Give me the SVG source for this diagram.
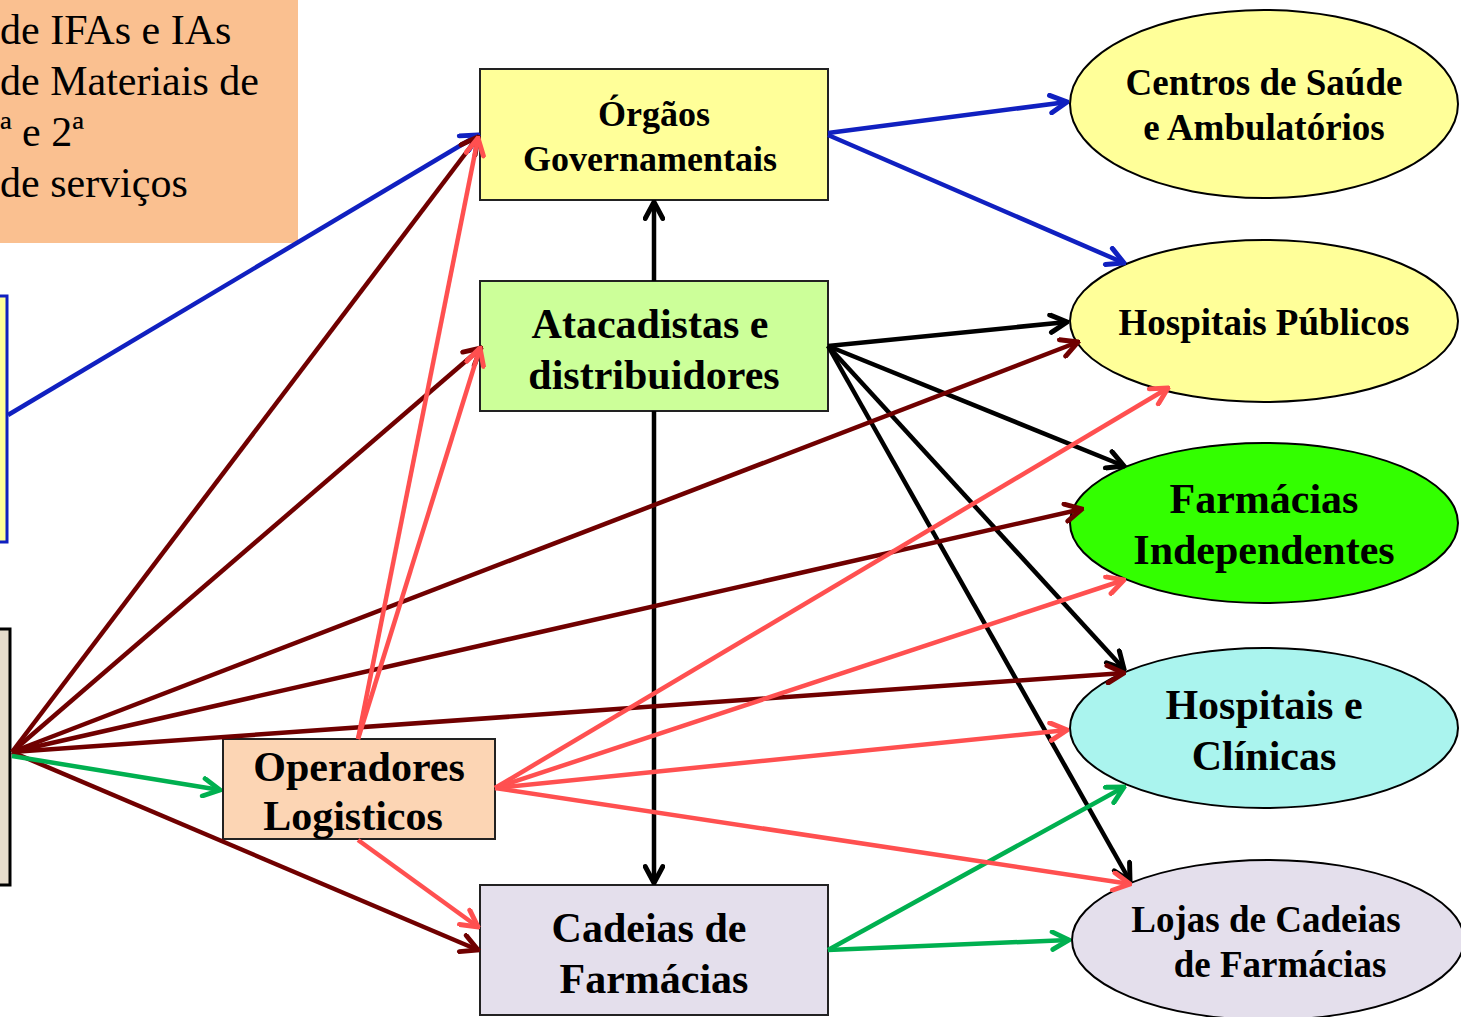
<svg xmlns="http://www.w3.org/2000/svg" width="1461" height="1017" viewBox="0 0 1461 1017">
<defs>
<style>
.t{font-family:"Liberation Serif","Times New Roman",serif;fill:#000}
.b{font-weight:bold;text-anchor:middle}
.box{stroke:#222;stroke-width:2}
.ell{stroke:#000;stroke-width:2}
.c{fill:none;stroke-width:4.5}
.blue{stroke:#1020C0}
.blk{stroke:#000}
.dred{stroke:#700000}
.grn{stroke:#00B050}
.red{stroke:#FF5050}
</style>
<marker id="mBlue" viewBox="0 0 20 20" refX="18" refY="10" markerWidth="22" markerHeight="22" markerUnits="userSpaceOnUse" orient="auto"><path d="M3,2 L18,10 L3,18" fill="none" stroke="#1020C0" stroke-width="4.5" stroke-linecap="round"/></marker>
<marker id="mBlk" viewBox="0 0 20 20" refX="18" refY="10" markerWidth="22" markerHeight="22" markerUnits="userSpaceOnUse" orient="auto"><path d="M3,2 L18,10 L3,18" fill="none" stroke="#000" stroke-width="4.5" stroke-linecap="round"/></marker>
<marker id="mDred" viewBox="0 0 20 20" refX="18" refY="10" markerWidth="22" markerHeight="22" markerUnits="userSpaceOnUse" orient="auto"><path d="M3,2 L18,10 L3,18" fill="none" stroke="#700000" stroke-width="4.5" stroke-linecap="round"/></marker>
<marker id="mGrn" viewBox="0 0 20 20" refX="18" refY="10" markerWidth="22" markerHeight="22" markerUnits="userSpaceOnUse" orient="auto"><path d="M3,2 L18,10 L3,18" fill="none" stroke="#00B050" stroke-width="4.5" stroke-linecap="round"/></marker>
<marker id="mRed" viewBox="0 0 20 20" refX="18" refY="10" markerWidth="22" markerHeight="22" markerUnits="userSpaceOnUse" orient="auto"><path d="M3,2 L18,10 L3,18" fill="none" stroke="#FF5050" stroke-width="4.5" stroke-linecap="round"/></marker>
</defs>
<rect width="1461" height="1017" fill="#fff"/>

<g id="fornecedores">
<rect x="-10" y="-10" width="308" height="253" fill="#FAC090"/>
<text class="t" font-size="42" x="0" y="44">de IFAs e IAs</text>
<text class="t" font-size="42" x="0" y="95">de Materiais de</text>
<text class="t" font-size="42" x="0" y="146">ª e 2ª</text>
<text class="t" font-size="42" x="0" y="197">de serviços</text>
</g>
<g id="caixa-azul">
<rect x="-20" y="296" width="27" height="246" fill="#FFFF99" stroke="#1020C0" stroke-width="3"/>
</g>
<g id="caixa-preta">
<rect x="-20" y="629" width="30" height="256" fill="#E6DCCC" stroke="#000" stroke-width="3"/>
</g>

<g id="orgaos">
<rect class="box" x="480" y="69" width="348" height="131" fill="#FFFF99"/>
<text class="t b" font-size="36" x="654" y="126">Órgãos</text>
<text class="t b" font-size="36" x="650" y="171">Governamentais</text>
</g>
<g id="atacadistas">
<rect class="box" x="480" y="281" width="348" height="130" fill="#CCFF99"/>
<text class="t b" font-size="42" x="650" y="338">Atacadistas e</text>
<text class="t b" font-size="42" x="654" y="389">distribuidores</text>
</g>
<g id="operadores">
<rect class="box" x="223" y="739" width="272" height="100" fill="#FCD5B4"/>
<text class="t b" font-size="42" x="359" y="781">Operadores</text>
<text class="t b" font-size="42" x="353" y="830">Logisticos</text>
</g>
<g id="cadeias">
<rect class="box" x="480" y="885" width="348" height="130" fill="#E4DFEC"/>
<text class="t b" font-size="42" x="649" y="942">Cadeias de</text>
<text class="t b" font-size="42" x="654" y="993">Farmácias</text>
</g>

<g id="centros">
<ellipse class="ell" cx="1264" cy="104" rx="194" ry="94" fill="#FFFF99"/>
<text class="t b" font-size="37" x="1264" y="95">Centros de Saúde</text>
<text class="t b" font-size="37" x="1264" y="140">e Ambulatórios</text>
</g>
<g id="hospitais-publicos">
<ellipse class="ell" cx="1264" cy="321" rx="194" ry="81" fill="#FFFF99"/>
<text class="t b" font-size="37" x="1264" y="335">Hospitais Públicos</text>
</g>
<g id="farmacias-independentes">
<ellipse class="ell" cx="1264" cy="523" rx="194" ry="80" fill="#33FF00"/>
<text class="t b" font-size="42" x="1264" y="513">Farmácias</text>
<text class="t b" font-size="42" x="1264" y="564">Independentes</text>
</g>
<g id="hospitais-clinicas">
<ellipse class="ell" cx="1264" cy="728" rx="194" ry="80" fill="#AAF4EE"/>
<text class="t b" font-size="42" x="1264" y="719">Hospitais e</text>
<text class="t b" font-size="42" x="1264" y="770">Clínicas</text>
</g>
<g id="lojas">
<ellipse class="ell" cx="1268" cy="940" rx="196" ry="80" fill="#E4DFEC"/>
<text class="t b" font-size="37" x="1266" y="932">Lojas de Cadeias</text>
<text class="t b" font-size="37" x="1280" y="977">de Farmácias</text>
</g>

<g id="conectores">
<line class="c blue" x1="8" y1="415" x2="478" y2="135" marker-end="url(#mBlue)"/>
<line class="c blue" x1="828" y1="133" x2="1067" y2="102" marker-end="url(#mBlue)"/>
<line class="c blue" x1="828" y1="135" x2="1124" y2="263" marker-end="url(#mBlue)"/>

<line class="c blk" x1="654" y1="281" x2="654" y2="202" marker-end="url(#mBlk)"/>
<line class="c blk" x1="654" y1="411" x2="654" y2="883" marker-end="url(#mBlk)"/>
<line class="c blk" x1="828" y1="346" x2="1067" y2="322" marker-end="url(#mBlk)"/>
<line class="c blk" x1="828" y1="346" x2="1124" y2="466" marker-end="url(#mBlk)"/>
<line class="c blk" x1="828" y1="346" x2="1124" y2="669" marker-end="url(#mBlk)"/>
<line class="c blk" x1="828" y1="346" x2="1130" y2="881" marker-end="url(#mBlk)"/>

<line class="c dred" x1="12" y1="752" x2="478" y2="137" marker-end="url(#mDred)"/>
<line class="c dred" x1="12" y1="752" x2="481" y2="348" marker-end="url(#mDred)"/>
<line class="c dred" x1="12" y1="752" x2="1078" y2="342" marker-end="url(#mDred)"/>
<line class="c dred" x1="12" y1="752" x2="1082" y2="509" marker-end="url(#mDred)"/>
<line class="c dred" x1="12" y1="752" x2="1124" y2="673" marker-end="url(#mDred)"/>
<line class="c dred" x1="12" y1="752" x2="478" y2="950" marker-end="url(#mDred)"/>

<line class="c grn" x1="12" y1="756" x2="220" y2="790" marker-end="url(#mGrn)"/>
<line class="c grn" x1="828" y1="950" x2="1124" y2="787" marker-end="url(#mGrn)"/>
<line class="c grn" x1="828" y1="950" x2="1069" y2="940" marker-end="url(#mGrn)"/>

<line class="c red" x1="358" y1="739" x2="478" y2="138" marker-end="url(#mRed)"/>
<line class="c red" x1="358" y1="739" x2="480" y2="348" marker-end="url(#mRed)"/>
<line class="c red" x1="495" y1="788" x2="1168" y2="388" marker-end="url(#mRed)"/>
<line class="c red" x1="495" y1="788" x2="1124" y2="580" marker-end="url(#mRed)"/>
<line class="c red" x1="495" y1="788" x2="1067" y2="730" marker-end="url(#mRed)"/>
<line class="c red" x1="495" y1="788" x2="1130" y2="884" marker-end="url(#mRed)"/>
<line class="c red" x1="358" y1="840" x2="478" y2="927" marker-end="url(#mRed)"/>
</g>
</svg>
